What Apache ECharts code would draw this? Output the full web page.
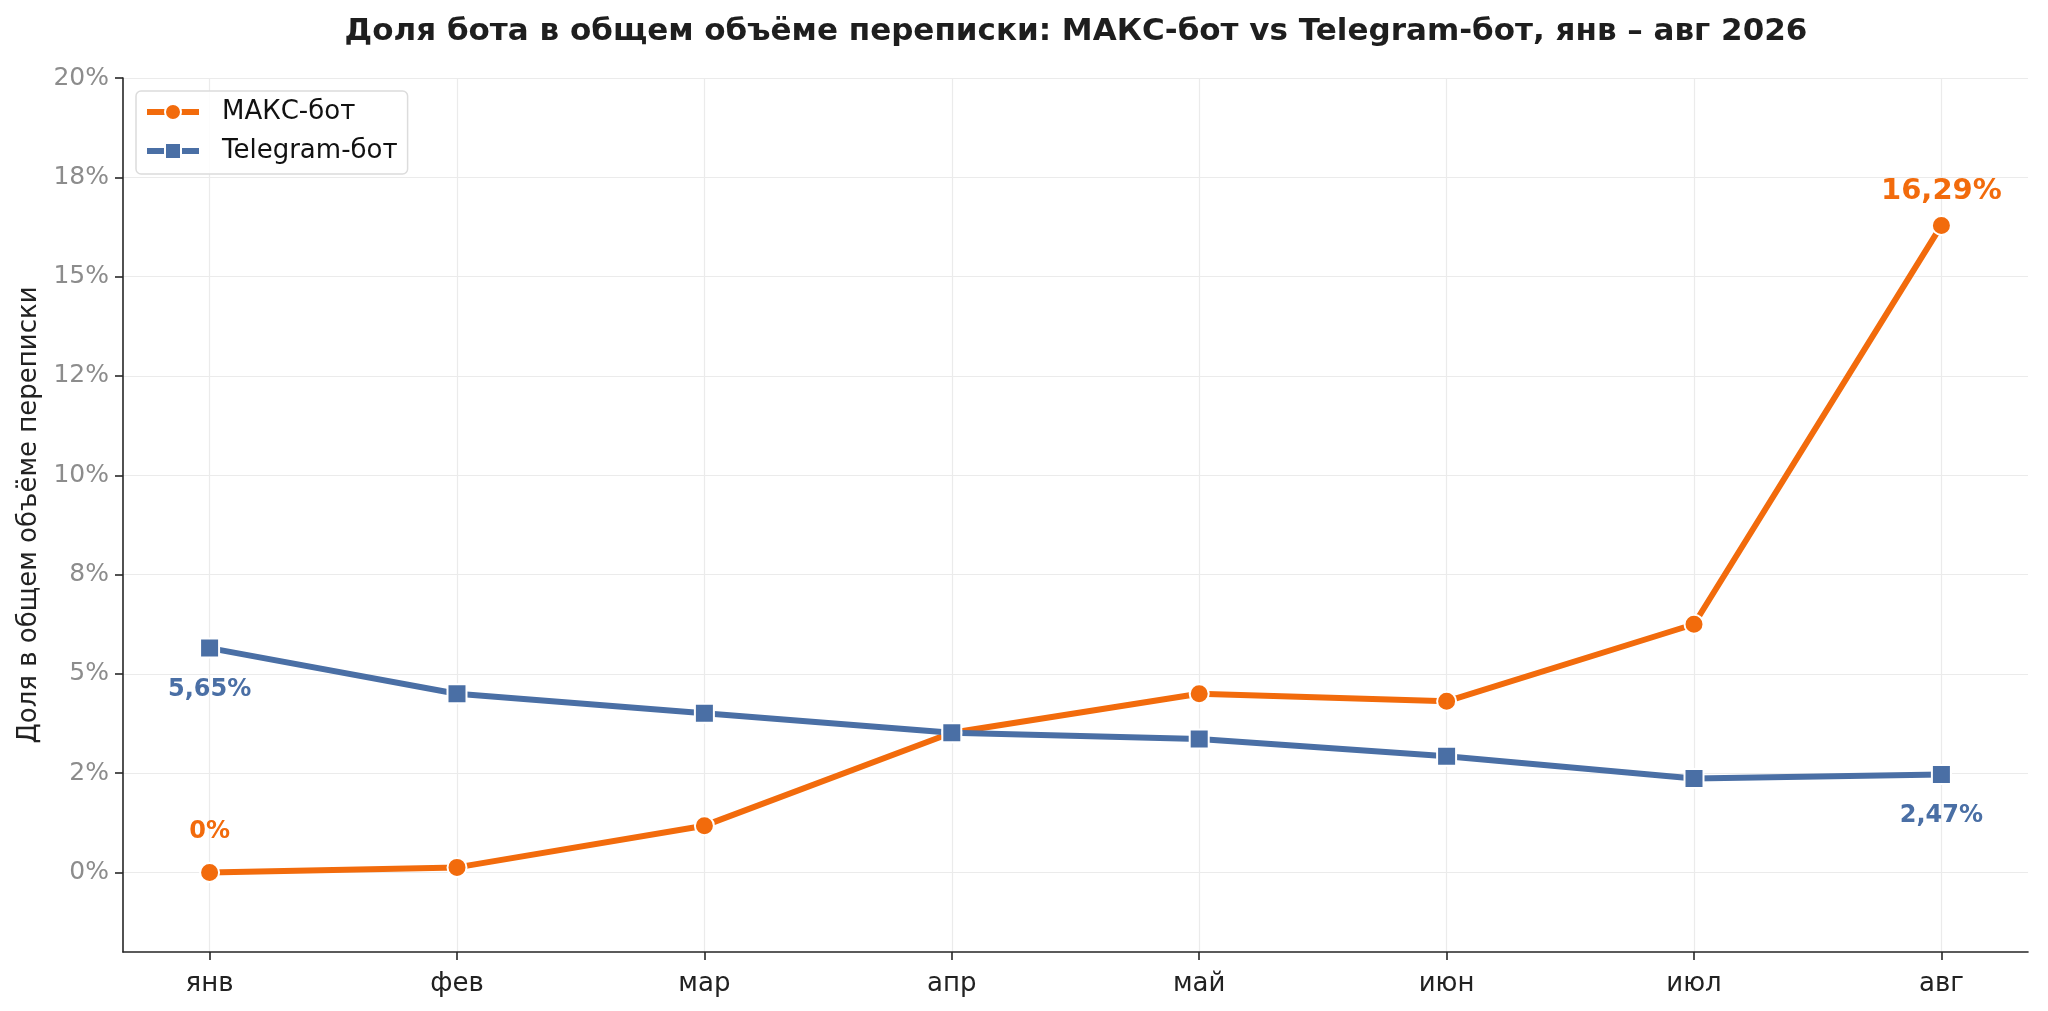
<!DOCTYPE html>
<html>
<head>
<meta charset="utf-8">
<script src="https://cdn.jsdelivr.net/npm/echarts@6/dist/echarts.min.js"></script>
<style>
html, body { margin: 0; padding: 0; background: #fff; }
#chart { width: 2048px; height: 1011px; }
</style>
</head>
<body>
<div id="chart"></div>
<script>
var months = ['янв', 'фев', 'мар', 'апр', 'май', 'июн', 'июл', 'авг'];
var maxBot = [0, 0.13, 1.18, 3.52, 4.5, 4.31, 6.25, 16.29];
var tgBot = [5.65, 4.5, 4.01, 3.52, 3.36, 2.93, 2.37, 2.47];
var yTicks = [0, 2.5, 5, 7.5, 10, 12.5, 15, 17.5, 20];
var yTickLabels = ['0%', '2%', '5%', '8%', '10%', '12%', '15%', '18%', '20%'];
var xTicks = [0, 1, 2, 3, 4, 5, 6, 7];

var ORANGE = '#F26B0C';
var BLUE = '#4A6FA5';
var FONT = 'DejaVu Sans';

function pctText(p) {
  return String(p.value[1]).replace('.', ',') + '%';
}

// label only the first and the last point of each line
function points(vals, pos, color, dist, lastSize, lastDist) {
  return vals.map(function (v, i) {
    var item = { value: [i, v] };
    if (i === 0 || i === vals.length - 1) {
      var big = (i === vals.length - 1) && lastSize;
      item.label = {
        show: true,
        position: pos,
        distance: big ? lastDist : dist,
        formatter: pctText,
        color: color,
        fontFamily: FONT,
        fontWeight: 'bold',
        fontSize: big ? lastSize : 24
      };
    }
    return item;
  });
}

var chart = echarts.init(document.getElementById('chart'), null, { renderer: 'canvas' });

var option = {
  backgroundColor: '#fff',
  animation: false,
  title: {
    text: 'Доля бота в общем объёме переписки: МАКС-бот vs Telegram-бот, янв – авг 2026',
    left: 1076,
    top: 16,
    textAlign: 'center',
    padding: 0,
    textStyle: { fontFamily: FONT, fontWeight: 'bold', fontSize: 31, color: '#1e1e1e' }
  },
  legend: {
    orient: 'vertical',
    left: 136,
    top: 91,
    padding: [8, 10, 10, 8],
    itemGap: 13,
    itemWidth: 52,
    itemHeight: 20,
    backgroundColor: 'rgba(255,255,255,0.85)',
    borderColor: '#dcdcdc',
    borderWidth: 1.5,
    borderRadius: 5,
    lineStyle: { width: 6 },
    textStyle: { fontFamily: FONT, fontSize: 26, color: '#111', padding: [0, 0, 0, 18], height: 26, lineHeight: 26 },
    data: ['МАКС-бот', 'Telegram-бот']
  },
  grid: { left: 123, right: 20, top: 78, bottom: 59, containLabel: false },
  xAxis: {
    type: 'value',
    min: -0.35,
    max: 7.35,
    axisLine: { show: true, onZero: false, lineStyle: { color: '#262626', width: 1.6 } },
    axisTick: { show: true, length: 8, customValues: xTicks, lineStyle: { color: '#262626', width: 1.6 } },
    axisLabel: {
      customValues: xTicks,
      margin: 19,
      fontFamily: FONT,
      fontSize: 26,
      color: '#222',
      formatter: function (v) { return months[Math.round(v)]; }
    },
    splitLine: { show: true, lineStyle: { color: '#ebebeb', width: 1.2 } }
  },
  yAxis: {
    type: 'value',
    min: -2,
    max: 20,
    name: 'Доля в общем объёме переписки',
    nameLocation: 'middle',
    nameGap: 75,
    nameTextStyle: { fontFamily: FONT, fontSize: 26, color: '#222' },
    axisLine: { show: true, onZero: false, lineStyle: { color: '#262626', width: 1.6 } },
    axisTick: { show: true, length: 8, customValues: yTicks, lineStyle: { color: '#262626', width: 1.6 } },
    axisLabel: {
      customValues: yTicks,
      margin: 14,
      fontFamily: FONT,
      fontSize: 25,
      color: '#8c8c8c',
      formatter: function (v) {
        var k = yTicks.indexOf(v);
        return k >= 0 ? yTickLabels[k] : '';
      }
    },
    splitLine: { show: true, lineStyle: { color: '#ebebeb', width: 1.2 } }
  },
  series: [
    {
      name: 'МАКС-бот',
      type: 'line',
      data: points(maxBot, 'top', ORANGE, 18, 29, 9),
      symbol: 'circle',
      symbolSize: 19,
      lineStyle: { color: ORANGE, width: 6 },
      itemStyle: { color: ORANGE, borderColor: '#fff', borderWidth: 2 }
    },
    {
      name: 'Telegram-бот',
      type: 'line',
      data: points(tgBot, 'bottom', BLUE, 19, 0, 19),
      symbol: 'rect',
      symbolSize: 19,
      lineStyle: { color: BLUE, width: 6 },
      itemStyle: { color: BLUE, borderColor: '#fff', borderWidth: 2 }
    }
  ]
};

chart.setOption(option);
</script>
</body>
</html>
